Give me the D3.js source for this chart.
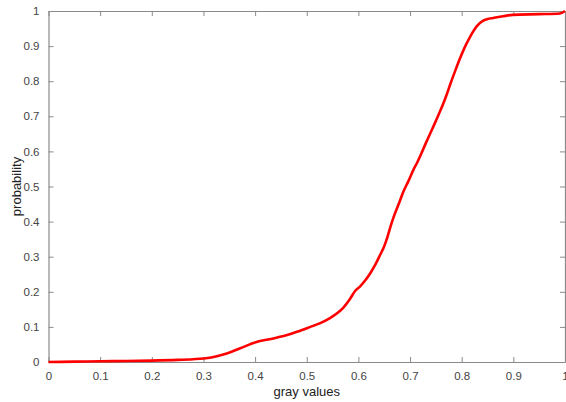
<!DOCTYPE html>
<html>
<head>
<meta charset="utf-8">
<script src="https://cdn.jsdelivr.net/npm/d3@7"></script>
<style>
  body { margin: 0; background: #fff; }
  text { font-family: "Liberation Sans", Arial, sans-serif; }
</style>
</head>
<body>
<div id="chart"></div>
<script>
// gray values (x) and cumulative probability (y)
var grayValues = [0, 0.05, 0.1, 0.15, 0.2, 0.25, 0.28, 0.3, 0.315, 0.327, 0.34, 0.352, 0.371, 0.391, 0.404,
  0.425, 0.443, 0.462, 0.481, 0.507, 0.525, 0.545, 0.56, 0.571, 0.583, 0.594, 0.603, 0.613, 0.623, 0.633,
  0.642, 0.65, 0.656, 0.662, 0.668, 0.678, 0.687, 0.697, 0.706, 0.715, 0.723, 0.731, 0.739, 0.747, 0.755,
  0.764, 0.771, 0.778, 0.787, 0.797, 0.807, 0.814, 0.82, 0.826, 0.832, 0.841, 0.85, 0.861, 0.88, 0.899,
  0.95, 0.99, 1.0];
var probability = [0, 0.001, 0.002, 0.003, 0.004, 0.006, 0.008, 0.010, 0.013, 0.017, 0.022, 0.028, 0.039, 0.051, 0.058,
  0.064, 0.070, 0.077, 0.086, 0.100, 0.110, 0.125, 0.140, 0.155, 0.178, 0.203, 0.215, 0.232, 0.253, 0.278,
  0.305, 0.330, 0.355, 0.385, 0.412, 0.450, 0.485, 0.516, 0.546, 0.572, 0.598, 0.625, 0.651, 0.677, 0.704,
  0.735, 0.762, 0.792, 0.828, 0.866, 0.900, 0.920, 0.936, 0.950, 0.961, 0.972, 0.977, 0.980, 0.985, 0.989,
  0.991, 0.993, 1.0];
var xTicks = [0, 0.1, 0.2, 0.3, 0.4, 0.5, 0.6, 0.7, 0.8, 0.9, 1];
var yTicks = [0, 0.1, 0.2, 0.3, 0.4, 0.5, 0.6, 0.7, 0.8, 0.9, 1];

var width = 566, height = 402;
var plotLeft = 48.5, plotRight = 565, plotTop = 11, plotBottom = 362;
var tickLen = 5;
var axisColor = "#8a8a8a";
var textColor = "#444";

var svg = d3.select("#chart").append("svg")
    .attr("width", width)
    .attr("height", height);

var x = d3.scaleLinear().domain([0, 1]).range([plotLeft, plotRight]);
var y = d3.scaleLinear().domain([0, 1]).range([plotBottom, plotTop]);

var fmt = function(d) { return d3.format("~g")(d); };

// bottom axis with labels, ticks pointing inward
var gx = svg.append("g")
    .attr("transform", "translate(0," + plotBottom + ")")
    .call(d3.axisBottom(x).tickValues(xTicks).tickFormat(fmt).tickSizeInner(-tickLen).tickSizeOuter(0).tickPadding(10));

// top axis, ticks only
var gxt = svg.append("g")
    .attr("transform", "translate(0," + plotTop + ")")
    .call(d3.axisTop(x).tickValues(xTicks).tickFormat("").tickSizeInner(-tickLen).tickSizeOuter(0));

// left axis with labels
var gy = svg.append("g")
    .attr("transform", "translate(" + plotLeft + ",0)")
    .call(d3.axisLeft(y).tickValues(yTicks).tickFormat(fmt).tickSizeInner(-tickLen).tickSizeOuter(0).tickPadding(9));

// right axis, ticks only
var gyr = svg.append("g")
    .attr("transform", "translate(" + plotRight + ",0)")
    .call(d3.axisRight(y).tickValues(yTicks).tickFormat("").tickSizeInner(-tickLen).tickSizeOuter(0));

[gx, gxt, gy, gyr].forEach(function(g) {
    g.select(".domain").attr("stroke", axisColor).attr("stroke-width", 1.2);
    g.selectAll(".tick line").attr("stroke", axisColor);
    g.selectAll(".tick text").attr("fill", textColor).style("font-size", "11.5px");
});

// the curve
var line = d3.line()
    .x(function(d, i) { return x(grayValues[i]); })
    .y(function(d) { return y(d); })
    .curve(d3.curveMonotoneX);

svg.append("path")
    .datum(probability)
    .attr("d", line)
    .attr("fill", "none")
    .attr("stroke", "#ff0000")
    .attr("stroke-width", 2.6)
    .attr("stroke-linejoin", "round");

// axis labels
svg.append("text")
    .attr("x", (plotLeft + plotRight) / 2)
    .attr("y", 396)
    .attr("text-anchor", "middle")
    .attr("fill", "#222")
    .style("font-size", "13px")
    .text("gray values");

svg.append("text")
    .attr("transform", "translate(21," + ((plotTop + plotBottom) / 2) + ")rotate(-90)")
    .attr("text-anchor", "middle")
    .attr("fill", "#222")
    .style("font-size", "13px")
    .text("probability");
</script>
</body>
</html>
